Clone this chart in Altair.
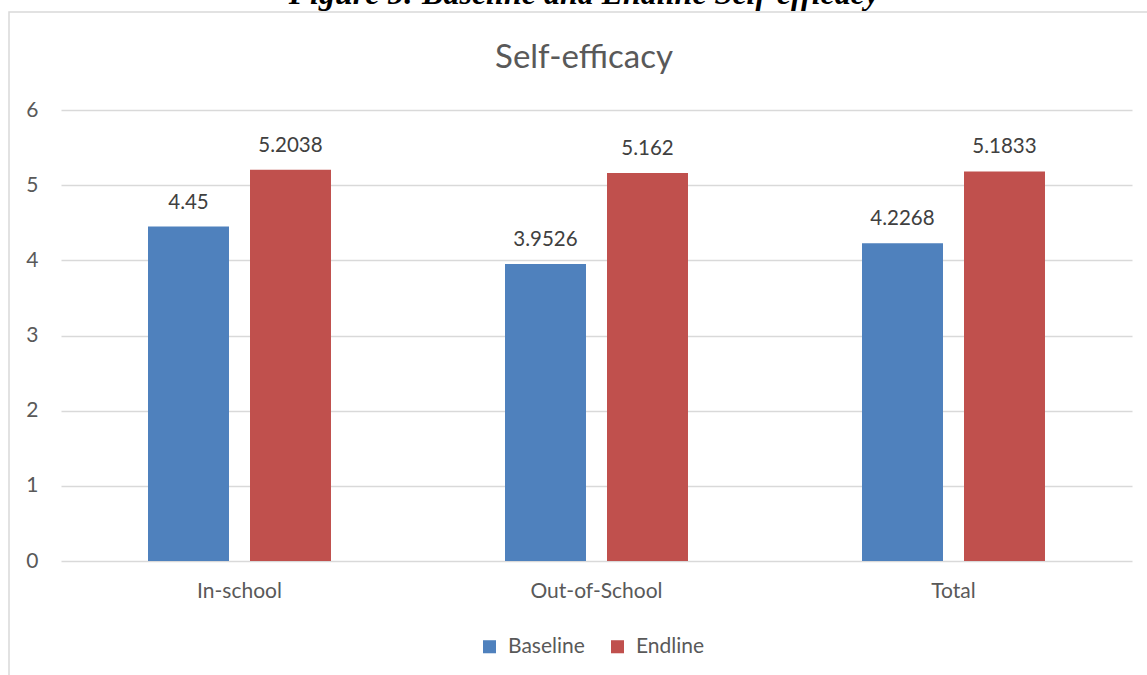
import altair as alt
import pandas as pd

categories = ["In-school", "Out-of-School", "Total"]
series = ["Baseline", "Endline"]
baseline_values = [4.45, 3.9526, 4.2268]
endline_values = [5.2038, 5.162, 5.1833]
baseline_labels = ["4.45", "3.9526", "4.2268"]
endline_labels = ["5.2038", "5.162", "5.1833"]
y_ticks = [0, 1, 2, 3, 4, 5, 6]
colors = ["#4F81BD", "#C0504D"]
chart_title = "Self-efficacy"
caption = "Figure 5: Baseline and Endline Self-efficacy"

rows = []
for c, v, l in zip(categories, baseline_values, baseline_labels):
    rows.append({"cat": c, "series": "Baseline", "value": v, "label": l})
for c, v, l in zip(categories, endline_values, endline_labels):
    rows.append({"cat": c, "series": "Endline", "value": v, "label": l})
df = pd.DataFrame(rows)

FONT = "Lato"
W, H = 1071, 451
PL, PT, PR, PB = 61, 110, 15, 114

base = alt.Chart(df)
x_enc = alt.X("cat:N", sort=categories,
              scale=alt.Scale(paddingInner=0, paddingOuter=0),
              axis=alt.Axis(title=None, labelAngle=0, domain=False, ticks=False,
                            labelPadding=19, labelFontSize=21, labelColor="#595959",
                            labelFont=FONT))
xo_enc = alt.XOffset("series:N", sort=series,
                     scale=alt.Scale(paddingInner=0.206, paddingOuter=0.853))
y_enc = alt.Y("value:Q", scale=alt.Scale(domain=[0, 6], nice=False),
              axis=alt.Axis(title=None, values=y_ticks, format="d", grid=True,
                            gridColor="#d9d9d9", gridWidth=1.3, domain=False, ticks=False,
                            labelPadding=23, labelFontSize=21, labelColor="#595959",
                            labelFont=FONT))

bars = base.mark_bar().encode(
    x=x_enc, xOffset=xo_enc, y=y_enc,
    color=alt.Color("series:N", sort=series,
                    scale=alt.Scale(domain=series, range=colors),
                    legend=alt.Legend(title=None, orient="none", legendX=418, legendY=526,
                                      direction="horizontal", symbolType="square",
                                      symbolSize=170, symbolStrokeWidth=0,
                                      labelFontSize=21, labelColor="#595959",
                                      labelFont=FONT, labelOffset=8, columnPadding=22,
                                      padding=0)),
)

labels = base.mark_text(dy=-18, baseline="alphabetic", fontSize=20.5, color="#404040",
                        font=FONT).encode(
    x=alt.X("cat:N", sort=categories), xOffset=alt.XOffset("series:N", sort=series),
    y="value:Q", text="label:N")

frame_df = pd.DataFrame({"k": [0]})
frame = alt.Chart(frame_df).mark_rect(fillOpacity=0, stroke="#d9d9d9", strokeWidth=1.5).encode(
    x=alt.value(9 - PL), x2=alt.value(1147 - PL + 30),
    y=alt.value(12 - PT), y2=alt.value(675 - PT + 30))

title_mark = alt.Chart(frame_df).mark_text(fontSize=33, color="#595959", font=FONT,
                                           align="center", baseline="middle").encode(
    x=alt.value(584 - PL), y=alt.value(58 - PT), text=alt.value(chart_title))

caption_mark = alt.Chart(frame_df).mark_text(fontSize=32, color="#000000",
                                             font="Liberation Serif", fontWeight="bold",
                                             fontStyle="italic", align="center",
                                             baseline="alphabetic").encode(
    x=alt.value(584 - PL), y=alt.value(4 - PT), text=alt.value(caption))

chart = alt.layer(frame, bars, labels, title_mark, caption_mark).properties(
    width=W, height=H,
    autosize=alt.AutoSizeParams(type="none"),
    padding={"left": PL, "top": PT, "right": PR, "bottom": PB},
).configure_view(stroke=None)

chart.save("out.html", embed_options={"renderer": "svg", "actions": False})
